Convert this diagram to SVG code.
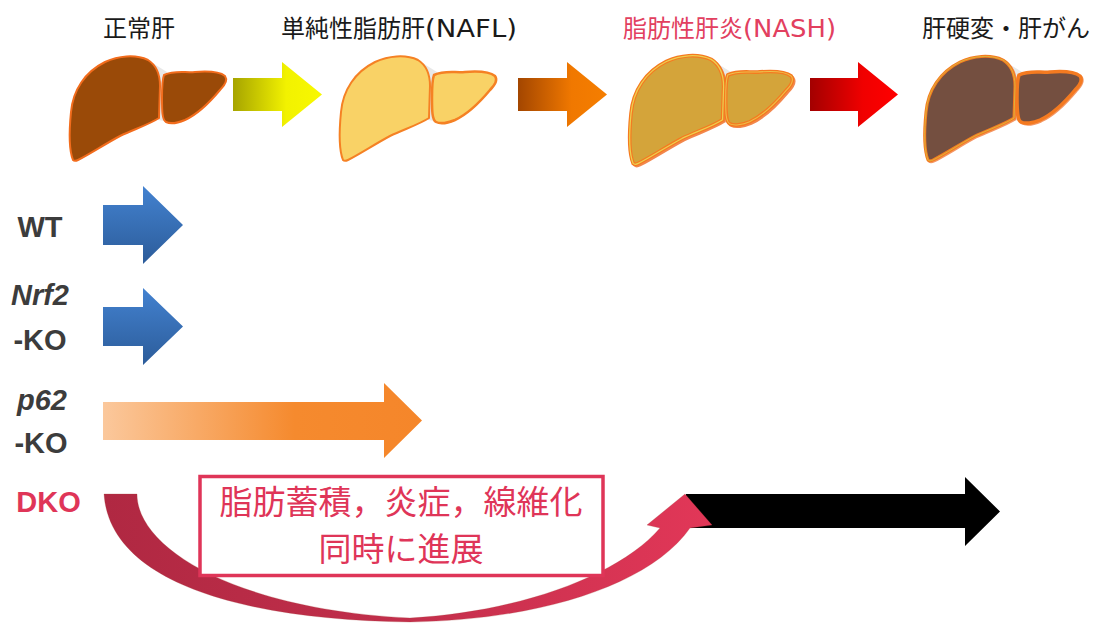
<svg xmlns="http://www.w3.org/2000/svg" xmlns:xlink="http://www.w3.org/1999/xlink" width="1101" height="623" viewBox="0 0 1101 623">
  <style>
    .stage { font-family: "Noto Sans CJK JP", sans-serif; font-size: 24px; fill: #1a1a1a; }
    .latin { font-family: "DejaVu Sans", sans-serif; }
    .nash { fill: #e2405f; }
    .row { font-family: "Liberation Sans", Arial, sans-serif; font-weight: bold; font-size: 29px; fill: #3c3c3c; text-anchor: middle; }
    .it { font-style: italic; }
    .dko { fill: #df3558; }
    .note { font-family: "Noto Sans CJK JP", sans-serif; font-size: 33px; fill: #df3558; text-anchor: middle; }
    .gap { fill: #e8e8e8; }
  </style>
  <defs>
    <!-- liver outline, left and right lobes, local coords -->
    <path id="lobeL" d="M 13 110 C 9 100 9 82 11 62 C 13 40 25 22 45 12 C 58 6 75 4 88 10 C 96 15 100 24 100 36 L 99 68 C 90 74 75 79 60 86 C 45 94 30 104 18 110 C 16 111 14 111 13 110 Z"/>
    <path id="lobeR" d="M 104 25 C 115 20 125 23 135 22 C 148 21 160 22 165 26 C 168 30 164 36 160 40 C 150 52 138 64 125 70 C 118 73 110 74 106 72 C 102 70 102 60 102 48 C 102 38 102 30 104 25 Z"/>
    <path id="lobeGap" d="M 86 9 L 107 22 L 105 71 L 98 70 Z"/>

    <linearGradient id="gYellow" x1="0" y1="0" x2="1" y2="0">
      <stop offset="0" stop-color="#a6a400"/>
      <stop offset="0.6" stop-color="#f2f200"/>
      <stop offset="1" stop-color="#f8f800"/>
    </linearGradient>
    <linearGradient id="gOrange" x1="0" y1="0" x2="1" y2="0">
      <stop offset="0" stop-color="#a34600"/>
      <stop offset="0.6" stop-color="#f07800"/>
      <stop offset="1" stop-color="#f57e00"/>
    </linearGradient>
    <linearGradient id="gRed" x1="0" y1="0" x2="1" y2="0">
      <stop offset="0" stop-color="#a30000"/>
      <stop offset="0.6" stop-color="#f00000"/>
      <stop offset="1" stop-color="#ff0000"/>
    </linearGradient>
    <linearGradient id="gBlue" x1="0" y1="0" x2="0" y2="1">
      <stop offset="0" stop-color="#4382d0"/>
      <stop offset="1" stop-color="#2c5c9a"/>
    </linearGradient>
    <linearGradient id="gPeach" x1="0" y1="0" x2="1" y2="0">
      <stop offset="0" stop-color="#fbc89c"/>
      <stop offset="0.6" stop-color="#f58a2e"/>
      <stop offset="1" stop-color="#f5862a"/>
    </linearGradient>
    <linearGradient id="gCrimson" gradientUnits="userSpaceOnUse" x1="104" y1="0" x2="712" y2="0">
      <stop offset="0" stop-color="#b02842"/>
      <stop offset="0.45" stop-color="#c02e4a"/>
      <stop offset="1" stop-color="#e23758"/>
    </linearGradient>
  </defs>

  <!-- stage titles -->
  <g id="title-normal"><text class="stage" x="103" y="37">正常肝</text></g>
  <g id="title-nafl"><text class="stage" x="281" y="37">単純性脂肪肝<tspan class="latin" textLength="92" lengthAdjust="spacingAndGlyphs">(NAFL)</tspan></text></g>
  <g id="title-nash"><text class="stage nash" x="623" y="37">脂肪性肝炎<tspan class="latin" textLength="93" lengthAdjust="spacingAndGlyphs">(NASH)</tspan></text></g>
  <g id="title-cirrhosis"><text class="stage" x="922" y="37">肝硬変・肝がん</text></g>

  <!-- livers -->
  <g id="liver-normal" transform="translate(60,50)">
    <use href="#lobeGap" class="gap"/>
    <use href="#lobeL" fill="#9a4a08" stroke="#f26c1c" stroke-width="2"/>
    <use href="#lobeR" fill="#9a4a08" stroke="#f26c1c" stroke-width="2"/>
  </g>
  <g id="liver-nafl" transform="translate(330,50)">
    <use href="#lobeGap" class="gap"/>
    <use href="#lobeL" fill="#f9d266" stroke="#f58124" stroke-width="2"/>
    <use href="#lobeR" fill="#f9d266" stroke="#f58124" stroke-width="2.5"/>
  </g>
  <g id="liver-nash" transform="translate(619.6,49) scale(1.04)">
    <use href="#lobeGap" class="gap"/>
    <g transform="translate(1.5,1.5)" opacity="0.8">
      <use href="#lobeL" fill="none" stroke="#f06a20" stroke-width="3"/>
      <use href="#lobeR" fill="none" stroke="#f06a20" stroke-width="3"/>
    </g>
    <use href="#lobeL" fill="#d4a43a" stroke="#f57a20" stroke-width="3.5"/>
    <use href="#lobeR" fill="#d4a43a" stroke="#f57a20" stroke-width="3.5"/>
    <use href="#lobeL" fill="none" stroke="#ecd050" stroke-width="1.2"/>
    <use href="#lobeR" fill="none" stroke="#ecc04a" stroke-width="1"/>
  </g>
  <g id="liver-cirrhosis" transform="translate(915,50)">
    <use href="#lobeGap" class="gap"/>
    <g transform="translate(1,1)" opacity="0.7">
      <use href="#lobeL" fill="none" stroke="#f06a20" stroke-width="3"/>
      <use href="#lobeR" fill="none" stroke="#f06a20" stroke-width="3"/>
    </g>
    <use href="#lobeL" fill="#744f40" stroke="#f47a20" stroke-width="3"/>
    <use href="#lobeR" fill="#744f40" stroke="#f47a20" stroke-width="3.5"/>
    <use href="#lobeL" fill="none" stroke="#d8c040" stroke-width="0.8"/>
  </g>

  <!-- row labels -->
  <g id="label-wt"><text class="row" x="40" y="237">WT</text></g>
  <g id="label-nrf2"><text class="row it" x="40" y="305">Nrf2</text><text class="row" x="40" y="350">-KO</text></g>
  <g id="label-p62"><text class="row it" x="42" y="410">p62</text><text class="row" x="41" y="453">-KO</text></g>
  <g id="label-dko"><text class="row dko" x="48.5" y="512">DKO</text></g>

  <!-- connectors -->
  <g id="connectors">
    <polygon id="arrow-stage1" fill="url(#gYellow)" points="233,78 282,78 282,62 322,94.5 282,127 282,111 233,111"/>
    <polygon id="arrow-stage2" fill="url(#gOrange)" points="518,78 567,78 567,62 607,94.5 567,127 567,111 518,111"/>
    <polygon id="arrow-stage3" fill="url(#gRed)" points="810,78 858,78 858,62 898,94.5 858,127 858,111 810,111"/>

    <polygon id="arrow-wt" fill="url(#gBlue)" points="103,205 143,205 143,186 183,225 143,264 143,245 103,245"/>
    <polygon id="arrow-nrf2" fill="url(#gBlue)" points="103,307 143,307 143,288 183,326.5 143,365 143,346 103,346"/>
    <polygon id="arrow-p62" fill="url(#gPeach)" points="103,402 384,402 384,383 422,420.5 384,458 384,440 103,440"/>

    <polygon id="arrow-dko-fast" fill="#000000" points="686,494 965,494 965,477 1000,511.5 965,546 965,528 686,528"/>
    <path id="arrow-dko-curve" fill="url(#gCrimson)" stroke="#a8403a" stroke-width="0.5" stroke-opacity="0.5"
          d="M 104 494 L 137 494 C 137 550 240 610 410 618 C 520 612 620 575 660 528 L 647 525 L 685 494 L 712 525 L 690 528 C 650 585 540 620 410 622 C 250 620 110 585 104 494 Z"/>
  </g>

  <!-- note box -->
  <g id="note-simultaneous">
    <rect x="200" y="476.5" width="403" height="99" fill="#ffffff" stroke="#df3558" stroke-width="3.5"/>
    <text class="note" x="401" y="514">脂肪蓄積，炎症，線維化</text>
    <text class="note" x="401" y="561">同時に進展</text>
  </g>
</svg>
